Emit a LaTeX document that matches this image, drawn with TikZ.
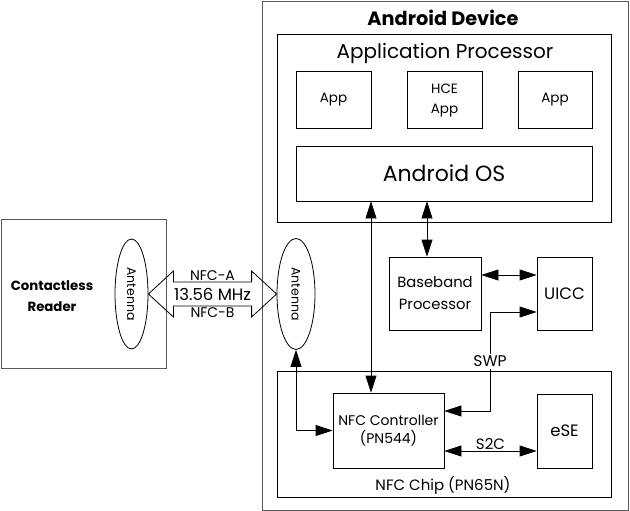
\documentclass[tikz,border=0pt]{standalone}
\usepackage{fontspec}
\setmainfont{Poppins}
\usetikzlibrary{arrows.meta,shapes.geometric,calc}

\begin{document}
\begin{tikzpicture}[x=1pt,y=-1pt,line width=0.8pt,
		>={Triangle[length=17pt,width=11pt]},
		box/.style={draw,rectangle,inner sep=0pt,align=center},
		greybox/.style={box,draw=black!65},
		antenna/.style={draw,ellipse,inner sep=0pt,sz={12.5}{15}},
		sz/.style 2 args={font=\fontsize{#1}{#2}\selectfont}]
		\useasboundingbox (0,0) rectangle (630,511);
		%%  Contactless reader  %%%%%%%%
		\node[greybox,minimum width=165,minimum height=149] (reader) at (83.5,293.5) {};
		\node[font=\fontsize{13.3}{21}\selectfont\bfseries,align=center] (readertxt) at (52,296) {Contactless\\Reader};
		\node[antenna,minimum width=33,minimum height=110] (ra) at (131.5,294) {\rotatebox{-90}{Antenna}};
		%%  Android device  %%%%%%%%
		\node[greybox,minimum width=366,minimum height=509] (device) at (445,255.5) {};
		\node[font=\fontsize{19.3}{22}\selectfont\bfseries] (devicetxt) at (443,18) {Android Device};
		\node[antenna,minimum width=38,minimum height=111] (da) at (296,294) {\rotatebox{-90}{Antenna}};
		%%  Application processor
		\node[box,minimum width=334,minimum height=188] (ap) at (444,128) {};
		\node[sz={20}{24}] (aptxt) at (445,53) {Application Processor};
		\node[box,sz={13.5}{20},minimum width=75,minimum height=57] (app1) at (333.5,100) {App};
		\node[box,sz={13.5}{20},minimum width=75,minimum height=57] (hce) at (444.5,100) {HCE\\App};
		\node[box,sz={13.5}{20},minimum width=74,minimum height=57] (app2) at (555,100) {App};
		\node[box,sz={22}{26},minimum width=296,minimum height=55] (os) at (444,173.5) {Android OS};
		%%  Baseband and UICC
		\node[box,sz={14.8}{22},minimum width=92,minimum height=73] (bb) at (435,293.5) {Baseband\\Processor};
		\node[box,sz={16.5}{20},minimum width=55,minimum height=73] (uicc) at (564.5,293.5) {UICC};
		%%  NFC chip
		\node[box,minimum width=334,minimum height=126] (chip) at (444,434) {};
		\node[sz={15}{18}] (chiptxt) at (443,485) {NFC Chip (PN65N)};
		\node[box,sz={14}{17},minimum width=111,minimum height=75] (nfc) at (388.5,430.5) {NFC Controller\\[1pt](PN544)};
		\node[box,sz={16.5}{20},minimum width=55,minimum height=74] (ese) at (564.5,431) {eSE};
		%%  Connectors  %%%%%%%%
		\coordinate (osnfc) at (371,0);
		\coordinate (osbb) at (427,0);
		\coordinate (bbuicc) at (0,275);
		\coordinate (swpa) at (490,312);
		\coordinate (swpb) at (490,411);
		\coordinate (s2cy) at (0,451);
		\draw[<->] (os.south -| osnfc) -- (nfc.north -| osnfc);
		\draw[<->] (os.south -| osbb) -- (bb.north -| osbb);
		\draw[<->] (bb.east |- bbuicc) -- (uicc.west |- bbuicc);
		\draw[<->] (uicc.west |- swpa) -- (swpa) -- node[sz={15.5}{18},fill=white,inner sep=2pt]{SWP} (swpb) -- (nfc.east |- swpb);
		\draw[<->] (nfc.east |- s2cy) -- node[sz={15}{18},above,inner sep=1pt]{S2C} (ese.west |- s2cy);
		\draw[<->] (da.south) |- (nfc.west);
		%%  RF link  %%%%%%%%
		\draw (ra.east) -- ($(ra.east)+(25,-23)$) -- ($(ra.east)+(25,-12)$)
			-- node[sz={14}{17},above,inner sep=1pt]{NFC-A} ($(da.west)+(-25,-12)$)
			-- ($(da.west)+(-25,-23)$) -- (da.west) -- ($(da.west)+(-25,23)$) -- ($(da.west)+(-25,12)$)
			-- node[sz={14}{17},below,inner sep=1pt]{NFC-B} ($(ra.east)+(25,12)$)
			-- ($(ra.east)+(25,23)$) -- cycle;
		\node[sz={16.5}{20}] (freq) at ($(ra.east)!0.5!(da.west)$) {13.56 MHz};
		%%%%%%%%%%%%%%%
\end{tikzpicture}
\end{document}
